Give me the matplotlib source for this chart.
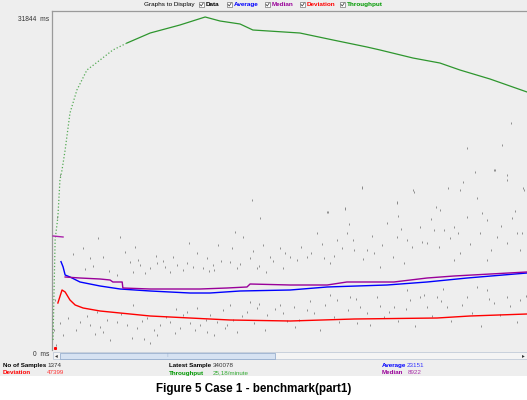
import matplotlib
matplotlib.use("Agg")
import matplotlib.pyplot as plt
from matplotlib.patches import Rectangle

W, H = 527, 400
N_SAMPLES = 1374
MS_PER_PX = 96.2

# ---- series: (sample index, ms) ----
thr_x = [3, 9, 17, 23, 29, 38, 52, 72, 101, 139, 176, 217, 284, 370, 443, 486,
         544, 581, 717, 813, 911, 949, 1044, 1122, 1180, 1267, 1374]
thr_y = [962, 10582, 12795, 16354, 17316, 19240, 22799, 25012, 26936, 27898, 28860,
         29533, 30495, 31265, 32035, 31650, 31361, 30784, 30495, 29822, 29149, 28860,
         28090, 27609, 26936, 26070, 24820]

avg_x = [26, 32, 38, 52, 81, 110, 139, 197, 284, 399, 457, 544, 689, 796, 969, 1085, 1201, 1374]
avg_y = [8500, 8000, 7215, 7023, 6542, 6349, 6157, 5868, 5676, 5483, 5483, 5676, 5772,
         6061, 6253, 6542, 6926, 7407]

# median: short first stretch, then the main curve
med_start_x = [3, 32]
med_start_y = [10967, 10871]
med_x = [38, 81, 139, 168, 176, 203, 205, 284, 428, 506, 564, 573, 689, 796, 853,
         989, 1085, 1163, 1374]
med_y = [7023, 6926, 6830, 6734, 6542, 6542, 5964, 5868, 5868, 5964, 6061,
         6349, 6253, 6253, 6542, 6542, 6926, 7119, 7504]

dev_first = (9, 192)
dev_x = [17, 29, 38, 52, 67, 90, 139, 197, 284, 399, 515, 689, 874, 1114, 1209, 1374]
dev_y = [4521, 5772, 5580, 4810, 4329, 4040, 3752, 3559, 3271, 3078, 2886, 2790,
         2982, 3078, 3271, 3463]

data_x = [133, 197, 90, 110, 148, 226, 255, 284, 304, 327, 362, 379, 408, 437, 466, 480,
          529, 553, 573, 593, 631, 660, 668, 234, 188, 535, 448, 341, 515, 610,
          60, 120, 165, 210, 250, 270, 300, 320, 350, 390, 420, 455, 490, 520, 545, 580,
          600, 640, 675, 95, 240, 395, 470, 620,
          23, 32, 81, 110, 148, 168, 188, 217, 246, 275, 284, 312, 341, 370, 399, 428,
          457, 477, 506, 535, 564, 593, 622, 660, 668, 130, 234, 379, 419, 573, 304, 448, 515,
          45, 70, 100, 125, 160, 200, 230, 260, 295, 330, 355, 390, 415, 445, 470, 495,
          525, 550, 585, 615, 645, 680, 140, 265, 360, 500, 600,
          796, 848, 897, 1047, 998, 1122, 1180, 1224, 1279, 1316, 1366, 709, 738, 767, 787,
          825, 853, 874, 911, 932, 969, 998, 1027, 1065, 1105, 1134, 1163, 1180, 1201, 1238,
          1258, 1287, 1316, 1345, 1354, 1085, 949, 1018, 1163, 1258, 804, 689,
          720, 750, 780, 815, 840, 870, 900, 925, 955, 985, 1010, 1040, 1070, 1095, 1120,
          1150, 1175, 1210, 1245, 1270, 1300, 1330, 1360, 1000, 1110, 1230, 1340, 860, 1190,
          1328, 1302, 1201, 1282, 1316, 897, 579, 602, 848, 1146, 1363, 1044, 998, 798,
          700, 738, 775, 825, 862, 891, 911, 960, 989, 1036, 1065, 1085, 1143, 1201, 1258,
          1279, 1316, 1354, 758, 940, 1114, 1027, 816, 703, 882,
          715, 745, 790, 830, 855, 880, 920, 950, 975, 1000, 1025, 1050, 1075, 1100, 1125,
          1155, 1185, 1215, 1240, 1265, 1295, 1325, 1345, 1370, 805, 1130, 1230,
          23, 14, 9, 6, 12]
data_y = [10774, 10871, 9812, 8850, 8947, 8466, 8177, 7888, 8369, 7985, 8177, 7696, 7985,
          7888, 8177, 10101, 11352, 10871, 8850, 7888, 8947, 9812, 7888, 7504, 7215, 7888,
          8850, 7504, 8466, 10101,
          9200, 8100, 7600, 9400, 8700, 7400, 9000, 8600, 8900, 8400, 9300, 7600, 8600,
          9800, 8300, 9500, 8100, 8600, 9300, 7800, 9900, 10300, 7700, 7500,
          2597, 1443, 2694, 2405, 1732, 962, 2694, 2405, 2116, 3078, 673, 2405, 2694, 2116,
          2597, 2405, 3367, 2694, 2405, 1732, 3656, 4040, 3367, 4329, 3559, 3656, 4329, 3367,
          4040, 4618, 1443, 1732, 4329,
          3100, 1900, 3300, 1500, 2900, 3500, 1200, 2800, 1900, 3200, 1600, 3700, 1900,
          2900, 1400, 3800, 2900, 3300, 2600, 1900, 3900, 2800, 2200, 1100, 3900, 2100, 4400,
          13276, 13660, 15584, 15200, 14238, 13468, 15392, 17124, 17316, 16354, 15392, 8658,
          8947, 11255, 8850, 10582, 11255, 9620, 9620, 9331, 12217, 10871, 10582, 11833,
          11544, 11544, 11833, 9331, 12795, 11255, 12506, 10871, 10293, 11255, 9620, 10293,
          7985, 8369, 8658, 8658, 8369, 8947,
          9900, 9300, 10200, 9000, 9800, 10600, 8800, 11000, 10100, 8900, 11600, 9900,
          10400, 12600, 9900, 10800, 11300, 10200, 13200, 9600, 11900, 12700, 11300, 12900,
          13800, 14600, 13400, 12100, 16200,
          21837, 19721, 19432, 17316, 16835, 15680, 14430, 12698, 13564, 15584, 15584, 15392,
          14141, 13276,
          4137, 3848, 1924, 4810, 5099, 4137, 3559, 3175, 4137, 4810, 5099, 4137, 4137, 5099,
          5772, 4521, 5099, 4810, 3559, 5099, 5099, 5772, 3175, 2213, 2597,
          2900, 4700, 4300, 2700, 3800, 4900, 2400, 4200, 3700, 2800, 3900, 2300, 5300,
          3300, 4700, 2800, 4300, 3600, 2300, 4900, 3400, 4200, 2700, 5200, 5300, 5900, 6100,
          16835, 12795, 4810, 1924, 481]

legend_names = ["Data", "Average", "Median", "Deviation", "Throughput"]
legend_colors = ["black", "#0000ff", "#990099", "#ff0000", "#009900"]


def fx(px):
    return px / W


def fy(py):
    return 1 - py / H


fig = plt.figure(figsize=(W / 100, H / 100), dpi=100, facecolor="white")
fig.patches.append(Rectangle((0, fy(376)), 1, 376 / H, transform=fig.transFigure,
                             facecolor="#eeeeee", edgecolor="none", zorder=-5))

ax = fig.add_axes([fx(52), fy(350), 475 / W, 339 / H])
ax.set_zorder(2)
ax.set_facecolor("#eeeeee")
ax.set_xlim(0, N_SAMPLES)
ax.set_ylim(0, 339 * MS_PER_PX)
ax.set_xticks([])
ax.set_yticks([])
for s in ["right", "bottom"]:
    ax.spines[s].set_visible(False)
for s in ["left", "top"]:
    ax.spines[s].set_color("#9a9a9a")
    ax.spines[s].set_linewidth(0.9)

# data points
ax.scatter(data_x, data_y, marker="|", s=4, linewidths=0.6, color="#808080", zorder=2)

# throughput: sparse sawtooth at start, then continuous
k = 12
ax.plot(thr_x[:k], thr_y[:k], ls=":", lw=0.9, color="#55aa55", zorder=3)
ax.plot(thr_x[k - 1:], thr_y[k - 1:], lw=0.9, color="#2e962e", zorder=3)

ax.plot(avg_x, avg_y, lw=1.0, color="#0000ff", zorder=4)
ax.plot(med_start_x, med_start_y, lw=1.0, color="#aa22aa", zorder=5)
ax.plot(med_x, med_y, lw=1.0, color="#990099", zorder=5)
ax.plot(*dev_first, marker="s", ms=1.2, color="#ff0000", zorder=4)
ax.plot(dev_x, dev_y, lw=1.0, color="#ff0000", zorder=4)

# y labels
small = dict(family="Liberation Sans", fontsize=4.8, color="#333333")
fig.text(fx(49), fy(21), "31844  ms", ha="right", va="baseline", **small)
fig.text(fx(49), fy(356), "0  ms", ha="right", va="baseline", **small)

# header with checkboxes
fig.text(fx(144), fy(6), "Graphs to Display", ha="left", va="baseline",
         family="Liberation Sans", fontsize=4.6, color="black")
box_x = [199, 227, 265, 300, 340]
for bx, name, col in zip(box_x, legend_names, legend_colors):
    fig.patches.append(Rectangle((fx(bx), fy(7)), 5 / W, 5 / H, transform=fig.transFigure,
                                 facecolor="white", edgecolor="#777777", lw=0.5))
    fig.lines.append(plt.Line2D([fx(bx + 1), fx(bx + 2.3), fx(bx + 4.2)],
                                [fy(4.5), fy(6), fy(3)], transform=fig.transFigure,
                                color="#333333", lw=0.5))
    fig.text(fx(bx + 7), fy(6), name, ha="left", va="baseline", family="Liberation Sans",
             fontsize=4.6, fontweight="bold", color=col)

# scrollbar
fig.patches.append(Rectangle((fx(53), fy(359)), 474 / W, 7 / H, transform=fig.transFigure,
                             facecolor="#f4f4f4", edgecolor="#b8c4d4", lw=0.5))
fig.patches.append(Rectangle((fx(60), fy(358.5)), 215 / W, 6 / H, transform=fig.transFigure,
                             facecolor="#d6e2f2", edgecolor="#8aa4c8", lw=0.5))
fig.text(fx(56.5), fy(355.5), "◂", ha="center", va="center", fontsize=4, color="#333333")
fig.text(fx(523), fy(355.5), "▸", ha="center", va="center", fontsize=4, color="#333333")
fig.text(fx(167), fy(355.5), "⁞", ha="center", va="center", fontsize=4, color="#8aa4c8")

# statistics rows
stat = dict(family="Liberation Sans", fontsize=4.5, va="baseline", ha="left")
r1, r2 = 367, 374.5
fig.text(fx(3), fy(r1), "No of Samples", fontweight="bold", color="black", **stat)
fig.text(fx(47), fy(r1), "1374", color="#333333", **stat)
fig.text(fx(3), fy(r2), "Deviation", fontweight="bold", color="#ff0000", **stat)
fig.text(fx(47), fy(r2), "47399", color="#ff3333", **stat)
fig.text(fx(169), fy(r1), "Latest Sample", fontweight="bold", color="black", **stat)
fig.text(fx(213), fy(r1), "340078", color="#333333", **stat)
fig.text(fx(169), fy(r2), "Throughput", fontweight="bold", color="#009900", **stat)
fig.text(fx(213), fy(r2), "25,18/minute", color="#33aa33", **stat)
fig.text(fx(382), fy(r1), "Average", fontweight="bold", color="#0000ff", **stat)
fig.text(fx(407), fy(r1), "23151", color="#3333ff", **stat)
fig.text(fx(382), fy(r2), "Median", fontweight="bold", color="#990099", **stat)
fig.text(fx(408), fy(r2), "8922", color="#aa33aa", **stat)

# caption
fig.text(fx(254), fy(389), "Figure 5 Case 1 - benchmark(part1)", ha="center", va="center",
         family="Liberation Sans", fontsize=8.4, fontweight="bold", color="black")

fig.savefig("out.png", dpi=100, facecolor="white")
